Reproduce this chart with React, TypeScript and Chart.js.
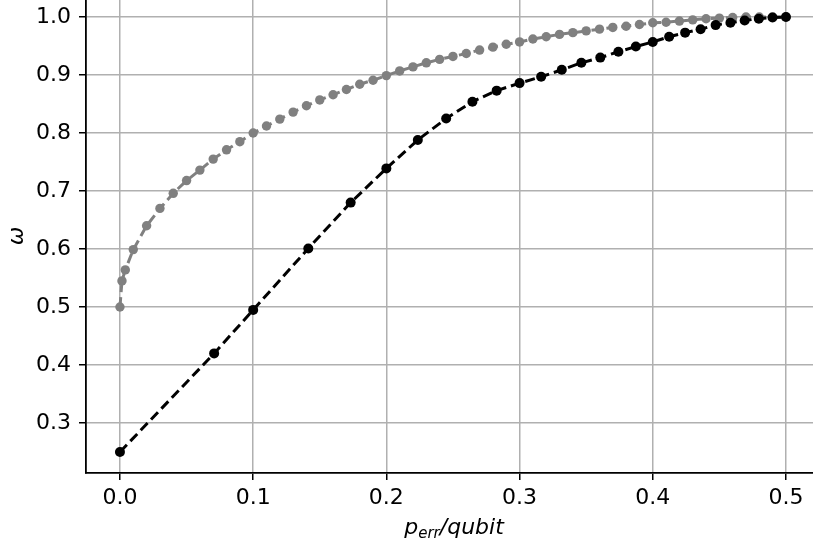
import React, { useEffect, useRef } from "react";
import { Chart, registerables } from "chart.js";

Chart.register(...registerables);

const grayX = [0, 0.0015, 0.004, 0.01, 0.02, 0.03, 0.04, 0.05, 0.06, 0.07, 0.08, 0.09, 0.1, 0.11, 0.12, 0.13, 0.14, 0.15, 0.16, 0.17, 0.18, 0.19, 0.2, 0.21, 0.22, 0.23, 0.24, 0.25, 0.26, 0.27, 0.28, 0.29, 0.3, 0.31, 0.32, 0.33, 0.34, 0.35, 0.36, 0.37, 0.38, 0.39, 0.4, 0.41, 0.42, 0.43, 0.44, 0.45, 0.46, 0.47, 0.48, 0.49, 0.5];
const grayY = [0.5, 0.545, 0.564, 0.599, 0.64, 0.67, 0.696, 0.718, 0.736, 0.755, 0.771, 0.785, 0.8, 0.812, 0.824, 0.836, 0.847, 0.857, 0.866, 0.875, 0.884, 0.891, 0.899, 0.907, 0.914, 0.921, 0.927, 0.932, 0.937, 0.943, 0.948, 0.953, 0.957, 0.962, 0.966, 0.97, 0.973, 0.976, 0.979, 0.982, 0.984, 0.987, 0.99, 0.991, 0.993, 0.995, 0.997, 0.998, 0.999, 1.0, 1.0, 1.0, 1.0];

const blackX = [0, 0.0707, 0.1, 0.1414, 0.1732, 0.2, 0.2236, 0.2449, 0.2646, 0.2828, 0.3, 0.3162, 0.3317, 0.3464, 0.3606, 0.3742, 0.3873, 0.4, 0.4123, 0.4243, 0.4359, 0.4472, 0.4583, 0.469, 0.4796, 0.4899, 0.5];
const blackY = [0.25, 0.42, 0.495, 0.601, 0.68, 0.739, 0.788, 0.825, 0.854, 0.873, 0.886, 0.897, 0.909, 0.921, 0.93, 0.94, 0.949, 0.957, 0.966, 0.973, 0.979, 0.986, 0.99, 0.994, 0.997, 0.999, 1.0];

const xTicks = [0, 0.1, 0.2, 0.3, 0.4, 0.5];
const yTicks = [0.3, 0.4, 0.5, 0.6, 0.7, 0.8, 0.9, 1.0];

const FONT = "'DejaVu Sans', sans-serif";

const axisTitles = {
  id: "axisTitles",
  afterDraw(chart: any) {
    const ctx = chart.ctx;
    ctx.save();
    ctx.fillStyle = "#000";
    ctx.translate(17, 236);
    ctx.rotate(-Math.PI / 2);
    ctx.font = `italic 22px ${FONT}`;
    ctx.textAlign = "center";
    ctx.textBaseline = "middle";
    ctx.fillText("ω", 0, 0);
    ctx.restore();

    ctx.save();
    ctx.fillStyle = "#000";
    ctx.textBaseline = "alphabetic";
    ctx.textAlign = "left";
    const big = `italic 22px ${FONT}`;
    const small = `italic 15px ${FONT}`;
    ctx.font = big;
    const w1 = ctx.measureText("p").width;
    const w3 = ctx.measureText("/qubit").width;
    ctx.font = small;
    const w2 = ctx.measureText("err").width;
    const total = w1 + w2 + w3;
    const cx = 454;
    let x = cx - total / 2;
    const base = 534;
    ctx.font = big;
    ctx.fillText("p", x, base);
    x += w1;
    ctx.font = small;
    ctx.fillText("err", x, base + 4);
    x += w2;
    ctx.font = big;
    ctx.fillText("/qubit", x, base);
    ctx.restore();
  },
};

export default function App() {
  const ref = useRef<HTMLCanvasElement | null>(null);
  useEffect(() => {
    if (!ref.current) return;
    const chart = new Chart(ref.current, {
      type: "line",
      data: {
        datasets: [
          {
            data: blackX.map((x, i) => ({ x, y: blackY[i] })),
            borderColor: "#000000",
            backgroundColor: "#000000",
            borderWidth: 3,
            borderDash: [10, 5],
            pointRadius: 5,
            pointBorderWidth: 0,
            pointBackgroundColor: "#000000",
            fill: false,
            order: 0,
          },
          {
            data: grayX.map((x, i) => ({ x, y: grayY[i] })),
            borderColor: "#808080",
            backgroundColor: "#808080",
            borderWidth: 3,
            borderDash: [10, 5],
            pointRadius: 4.7,
            pointBorderWidth: 0,
            pointBackgroundColor: "#808080",
            fill: false,
            order: 1,
          },
        ],
      },
      plugins: [axisTitles],
      options: {
        animation: false,
        responsive: false,
        devicePixelRatio: 1,
        layout: { padding: 0, autoPadding: false },
        plugins: { legend: { display: false }, tooltip: { enabled: false } },
        scales: {
          x: {
            type: "linear",
            min: -0.0255,
            max: 0.5203,
            afterFit: (s: any) => {
              s.height = 75;
              s.paddingLeft = 0;
              s.paddingRight = 0;
            },
            afterBuildTicks: (s: any) => {
              s.ticks = xTicks.map((v) => ({ value: v }));
            },
            ticks: {
              font: { family: FONT, size: 22 },
              color: "#000",
              padding: 5,
              maxRotation: 0,
              callback: (v: any) => Number(v).toFixed(1),
            },
            grid: {
              color: "#b0b0b0",
              lineWidth: 1.5,
              tickLength: 7,
              tickColor: "#000",
              tickWidth: 1.5,
            },
            border: { color: "#000", width: 1.8 },
          },
          y: {
            type: "linear",
            min: 0.2138,
            max: 1.0293,
            afterFit: (s: any) => {
              s.width = 86;
              s.paddingTop = 0;
              s.paddingBottom = 0;
            },
            afterBuildTicks: (s: any) => {
              s.ticks = yTicks.map((v) => ({ value: v }));
            },
            ticks: {
              font: { family: FONT, size: 22 },
              color: "#000",
              padding: 8,
              callback: (v: any) => Number(v).toFixed(1),
            },
            grid: {
              color: "#b0b0b0",
              lineWidth: 1.5,
              tickLength: 7,
              tickColor: "#000",
              tickWidth: 1.5,
            },
            border: { color: "#000", width: 1.8 },
          },
        },
      },
    } as any);
    return () => chart.destroy();
  }, []);
  return (
    <div style={{ position: "fixed", left: 0, top: 0, width: 813, height: 548, background: "#fff" }}>
      <canvas ref={ref} width={813} height={548} style={{ display: "block" }} />
    </div>
  );
}
